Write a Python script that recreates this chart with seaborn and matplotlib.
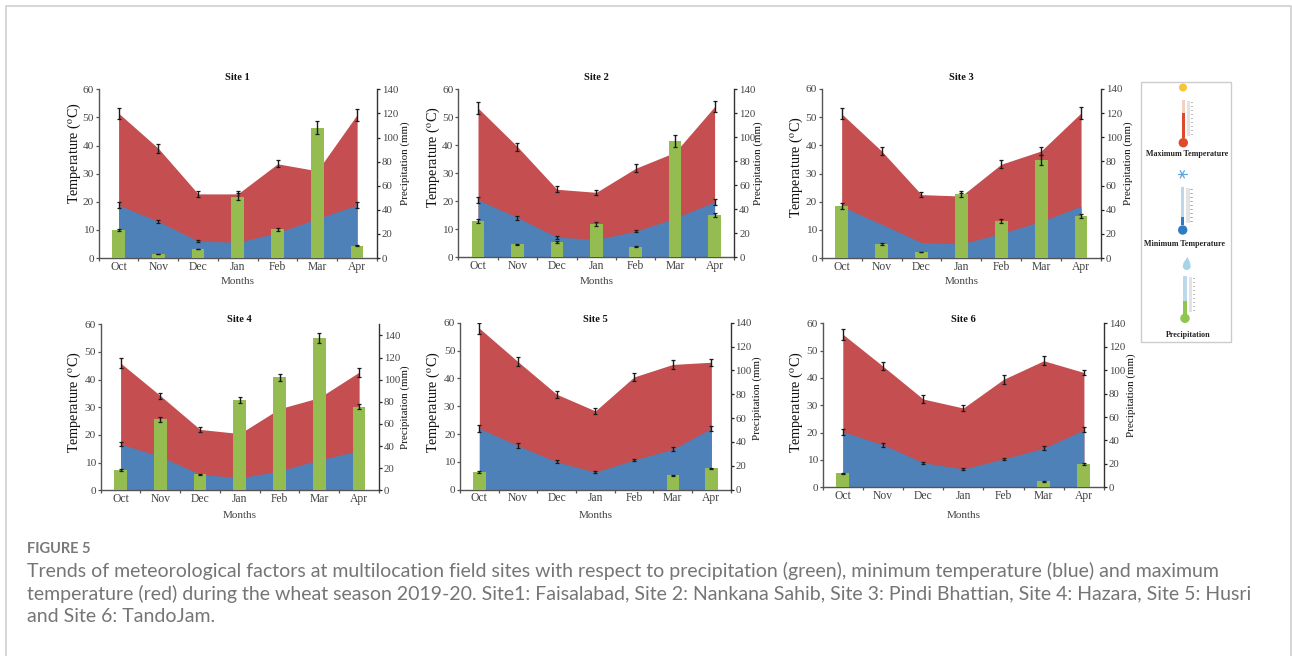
import numpy as np
import pandas as pd
import seaborn as sns
from matplotlib import pyplot as plt
from matplotlib.patches import Circle, Rectangle, Polygon

months = ['Oct', 'Nov', 'Dec', 'Jan', 'Feb', 'Mar', 'Apr']
sites = ['Site 1', 'Site 2', 'Site 3', 'Site 4', 'Site 5', 'Site 6']

# temperature (deg C), precipitation (mm), 0 err = no bar in the original
tmax = [[51.5, 39, 22.8, 22.8, 33.5, 31, 51],
        [53.3, 39.5, 24.3, 23.2, 31.8, 37.5, 53.8],
        [51.2, 38, 22.5, 22, 33.3, 38, 51.5],
        [46, 34.2, 22, 20.5, 29.5, 33.5, 42.7],
        [58, 46, 34.3, 28.3, 40.5, 45, 45.8],
        [56, 44.3, 32.3, 29, 39.5, 46.3, 42]]
tmax_err = [[2, 1.5, 1, 1, 1.2, 0, 2.1],
            [2, 1.5, 1, 1, 1.5, 0, 2],
            [2, 1.4, 1, 1, 1.4, 1.4, 2],
            [1.7, 1.1, 0.9, 0, 0, 0, 1.6],
            [2, 1.6, 1.3, 1.1, 1.6, 1.6, 1.3],
            [2, 1.5, 1.3, 1, 1.6, 1.6, 1]]
tmin = [[18.8, 13, 6, 5.6, 9, 14, 18.8],
        [20.5, 14.2, 7.2, 6.4, 9.3, 14, 19.8],
        [18.3, 12, 5.5, 5, 8.7, 13, 18.4],
        [16.7, 12.2, 5.8, 4.5, 7, 11, 14.3],
        [22, 15.8, 10, 6.3, 10.7, 14.5, 22],
        [20.3, 15.6, 9, 6.7, 10.4, 14.3, 21]]
tmin_err = [[1, 0.6, 0.3, 0, 0, 0, 1],
            [1.2, 0.7, 0.5, 0, 0.4, 0, 1],
            [0, 0, 0, 0, 0, 0, 0],
            [0.8, 0, 0, 0, 0, 0, 0],
            [1.1, 0.8, 0.5, 0.3, 0.4, 0.7, 1],
            [1, 0.7, 0.4, 0.3, 0.5, 0.8, 0.9]]
precip = [[23, 3.5, 7.5, 51, 24, 108, 10],
          [30, 11, 13, 28, 9, 97, 35],
          [43, 11.5, 5, 53, 30.5, 81, 34.5],
          [18.3, 64, 14.5, 81.7, 102, 138, 75.5],
          [15, 0, 0, 0, 0, 12, 18],
          [12, 0, 0, 0, 0, 5, 20]]
precip_err = [[1, 0.2, 0.3, 2.8, 1.2, 5.5, 0.4],
              [1.8, 0.4, 0.8, 1.5, 0.3, 5, 1.7],
              [2.3, 0.7, 0.3, 2.3, 1.7, 4.2, 1.7],
              [0.5, 2, 0.4, 2.5, 3, 4.5, 2.2],
              [0.7, 0, 0, 0, 0, 0.6, 0.6],
              [0.3, 0, 0, 0, 0, 0.3, 0.8]]

caption = ['Trends of meteorological factors at multilocation field sites with respect to precipitation (green), minimum temperature (blue) and maximum',
           'temperature (red) during the wheat season 2019-20. Site1: Faisalabad, Site 2: Nankana Sahib, Site 3: Pindi Bhattian, Site 4: Hazara, Site 5: Husri',
           'and Site 6: TandoJam.']

# layout in pixels of the 1292x656 picture
W, H = 1292, 656
boxes = [(98.7, 377, 89.3, 258), (458.3, 734.3, 89.3, 257.3), (821.7, 1101, 89, 258),
         (100.7, 379, 324.3, 490.3), (460, 730.7, 322.7, 489.7), (822.7, 1104, 323.3, 487.3)]
temp_label_x = [74, 433.5, 796, 74, 433.5, 796]
temp_label_y = [0.62, 0.595, 0.537, 0.53, 0.523, 0.518]
prec_label_x = [405, 758.5, 1127.7, 405, 757, 1131]
prec_label_y = [0.56, 0.56, 0.56, 0.498, 0.55, 0.56]
months_label_y = [281, 281, 281, 515, 515, 515]
title_y = [77, 77, 77, 320, 320, 320]
prec_top = [140, 140, 140, 150, 140, 140]

RED, BLUE, GREEN = '#C44E50', '#4F81B9', '#95BC50'
DARK = '#444444'

sns.set_style('ticks')
plt.rcParams['font.family'] = ['Liberation Serif']
plt.rcParams['mathtext.fontset'] = 'stix'
plt.rcParams['axes.linewidth'] = 1.0

fig = plt.figure(figsize=(W / 100, H / 100), dpi=100, facecolor='white')
x = np.arange(len(months))


def errs(a, vals, err):
    vals, err = np.array(vals, dtype=float), np.array(err, dtype=float)
    keep = err > 0
    a.errorbar(x[keep], vals[keep], yerr=err[keep], fmt='none', ecolor='#1a1a1a',
               elinewidth=1.0, capsize=1.6, capthick=0.9)


for i, site in enumerate(sites):
    l, r, t, b = boxes[i]
    ax = fig.add_axes([l / W, 1 - b / H, (r - l) / W, (b - t) / H])
    ax2 = ax.twinx()

    df = pd.DataFrame({'month': months, 'precip': precip[i]})
    sns.barplot(data=df, x='month', y='precip', order=months, color=GREEN, saturation=1,
                width=0.32, linewidth=0, ax=ax2)
    errs(ax2, precip[i], precip_err[i])

    ax.fill_between(x, 0, tmax[i], color=RED, lw=0)
    ax.fill_between(x, 0, tmin[i], color=BLUE, lw=0)
    errs(ax, tmax[i], tmax_err[i])
    errs(ax, tmin[i], tmin_err[i])

    ax.set_xlim(-0.5, 6.5)
    ax.set_ylim(0, 60)
    ax2.set_ylim(0, prec_top[i])
    ax.set_yticks(range(0, 61, 10))
    ax2.set_yticks(range(0, 141, 20))
    ax.set_xticks(x)
    ax.set_xticklabels(months)
    ax.set_xticks(np.arange(-0.5, 7), minor=True)
    ax.tick_params(axis='x', which='major', length=0, labelsize=8.4, labelcolor=DARK, pad=2)
    ax.tick_params(axis='x', which='minor', length=2, width=0.9, color='#555555')
    ax.tick_params(axis='y', length=2, width=0.9, color='#555555', labelsize=8.2,
                   labelcolor=DARK, pad=1.5)
    ax2.tick_params(axis='y', length=2, width=0.9, color='#222222', labelsize=7.8,
                    labelcolor=DARK, pad=1.5)

    for s in ['top', 'right']:
        ax.spines[s].set_visible(False)
    ax.spines['left'].set_color('#555555')
    ax.spines['bottom'].set_color('#555555')
    ax2.spines['top'].set_visible(False)
    ax2.spines['left'].set_visible(False)
    ax2.spines['bottom'].set_visible(False)
    ax2.spines['right'].set_color('#333333')

    ax.set_ylabel('Temperature ($^{\\mathrm{o}}$C)', fontsize=10.2, color='#111111', va='center')
    ax.yaxis.set_label_coords((temp_label_x[i] - l) / (r - l), temp_label_y[i])
    ax2.set_ylabel('Precipitation (mm)', fontsize=7.9, color='#111111', va='center')
    ax2.yaxis.set_label_coords((prec_label_x[i] - l) / (r - l), prec_label_y[i])
    ax2.set_xlabel('')
    ax.set_xlabel('Months', fontsize=8, color=DARK, va='center')
    ax.xaxis.set_label_coords(0.5, (b - months_label_y[i]) / (b - t))

    fig.text((l + r) / 2 / W, 1 - title_y[i] / H, site, fontsize=7.6, fontweight='bold',
             ha='center', va='center', color='#111111')

# overlay in pixel coordinates: page frame, thermometer panel, caption
ov = fig.add_axes([0, 0, 1, 1], zorder=5)
ov.set_xlim(0, W)
ov.set_ylim(H, 0)
ov.axis('off')
ov.plot([6, 6, 1291, 1291], [656, 6, 6, 656], color='#d0d0d0', lw=1.2)
ov.add_patch(Rectangle((1141, 82), 90, 260, fc='white', ec='#cccccc', lw=1))


def thermo(cx, top, bottom, fill_from, bulb_y, color, pale):
    ov.add_patch(Rectangle((cx - 1.7, top), 3.4, bottom - top, fc=pale, ec='none'))
    ov.add_patch(Rectangle((cx - 1.7, fill_from), 3.4, bottom - fill_from, fc=color, ec='none'))
    ov.add_patch(Circle((cx, bulb_y), 4.7, fc=color, ec='none'))
    ov.add_patch(Rectangle((cx + 3.5, top + 1), 3.5, bottom - top - 3, fc='#e3e3e3', ec='none'))
    for k in np.arange(top + 2, bottom - 1, 4):
        ov.plot([cx + 7.5, cx + 9], [k, k], color='#9a9a9a', lw=0.6)


thermo(1183.3, 100, 138, 113, 142.7, '#E2492B', '#F6CFC0')
thermo(1182.7, 187, 225, 217, 230, '#2F7CC4', '#BCD9EC')
thermo(1185, 276, 314, 301, 318.3, '#8FC64F', '#BCD9EC')
ov.add_patch(Circle((1183, 87.5), 4, fc='#F7C433', ec='none'))
for ang in [0, 60, 120]:
    dx, dy = 4.2 * np.cos(np.radians(ang)), 4.2 * np.sin(np.radians(ang))
    ov.plot([1182.3 - dx, 1182.3 + dx], [174.3 - dy, 174.3 + dy], color='#5AA5DC', lw=0.9)
ov.add_patch(Circle((1186.7, 266), 4, fc='#A9D3E8', ec='none'))
ov.add_patch(Polygon([[1187.5, 257], [1183, 263.5], [1190.5, 263.5]], fc='#A9D3E8', ec='none'))
panel_labels = [('Maximum Temperature', 1186.7, 154), ('Minimum Temperature', 1185, 244),
                ('Precipitation', 1188.7, 335.3)]
for txt, px, py in panel_labels:
    ov.text(px, py, txt, fontsize=5.8, fontweight='bold', ha='center', va='center', color='#222222')

ov.text(27, 549, 'FIGURE 5', family='Lato', fontsize=10.5, fontweight='bold', color='#7a7a7a',
        ha='left', va='center')
for line, py in zip(caption, [571, 594, 617]):
    ov.text(27, py, line, family='Lato', fontsize=14.0, color='#757575', ha='left', va='center')

fig.savefig('out.png', dpi=100, facecolor='white')
